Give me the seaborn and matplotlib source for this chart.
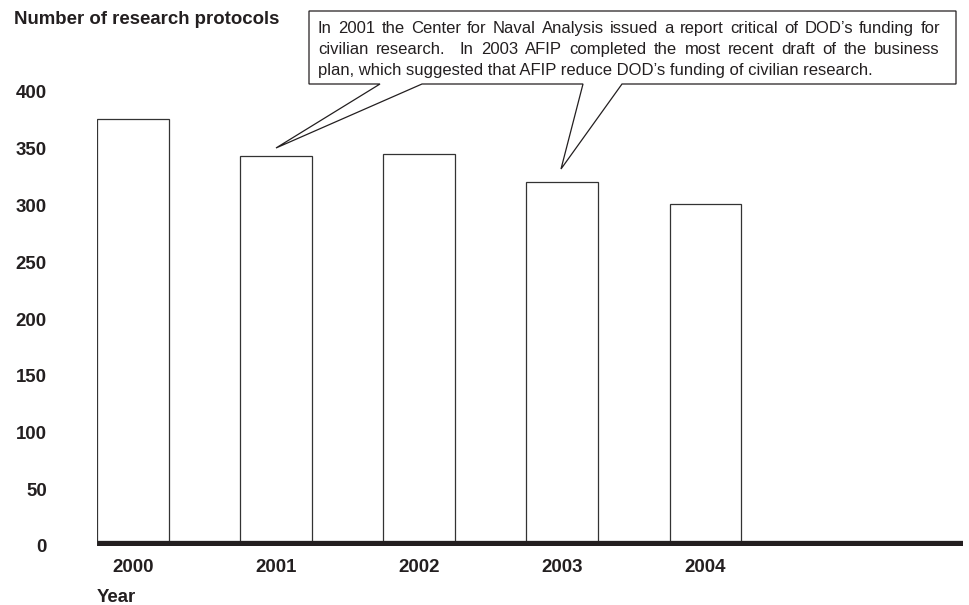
import matplotlib
matplotlib.use("Agg")
import matplotlib.pyplot as plt
import seaborn as sns
import pandas as pd
from matplotlib.patches import Polygon

years = ["2000", "2001", "2002", "2003", "2004"]
protocols = [376, 344, 345, 321, 301]
y_ticks = [0, 50, 100, 150, 200, 250, 300, 350, 400]
y_title = "Number of research protocols"
x_title = "Year"
callout_lines = [
    "In 2001 the Center for Naval Analysis issued a report critical of DOD\u2019s funding for",
    "civilian research.  In 2003 AFIP completed the most recent draft of the business",
    "plan, which suggested that AFIP reduce DOD\u2019s funding of civilian research.",
]

sns.set_theme(style="white")
plt.rcParams["font.family"] = ["Liberation Sans", "DejaVu Sans"]
INK = "#231f20"
BOLD_SIZE = 13.4

W, H = 970, 605
fig = plt.figure(figsize=(W / 100, H / 100), dpi=100)
ax = fig.add_axes([97 / W, 59 / H, (963 - 97) / W, 454 / H])

df = pd.DataFrame({"year": years, "n": protocols})
sns.barplot(data=df, x="year", y="n", ax=ax, color="white", width=0.5,
            edgecolor="#333333", linewidth=0.9, zorder=2)
for p in ax.patches:
    p.set_facecolor("white")

ax.set_xlim(-0.25, 5.80)
ax.set_ylim(0, 400)
ax.set_yticks(y_ticks)
ax.set_yticklabels([str(v) for v in y_ticks])
for s in ax.spines.values():
    s.set_visible(False)
ax.axhline(2.3, color=INK, lw=3.8, zorder=3, solid_capstyle="butt")
ax.tick_params(axis="both", length=0, labelsize=BOLD_SIZE, colors=INK)
ax.tick_params(axis="y", pad=36)
ax.tick_params(axis="x", pad=9)
for lab in ax.get_xticklabels() + ax.get_yticklabels():
    lab.set_fontweight("bold")
ax.set_ylabel("")
ax.set_xlabel(x_title, loc="left", fontsize=BOLD_SIZE, fontweight="bold", color=INK, labelpad=10)
ax.grid(False)

fig.text(14 / W, 1 - 24 / H, y_title, fontsize=BOLD_SIZE, fontweight="bold", color=INK,
         ha="left", va="baseline")

def fp(x, y):
    return (x / W, 1 - y / H)

pts = [(309, 11), (956, 11), (956, 84), (622, 84), (561, 169), (583, 84),
       (422, 84), (276, 148), (380, 84), (309, 84)]
poly = Polygon([fp(*p) for p in pts], closed=True, transform=fig.transFigure,
               facecolor="white", edgecolor=INK, lw=0.9, zorder=5)
fig.add_artist(poly)

# justified callout text (first two lines justified, last line ragged)
renderer = fig.canvas.get_renderer()
x0, x1 = 318, 940
baselines = [33, 54, 75]
for i, (line, yb) in enumerate(zip(callout_lines, baselines)):
    if i == len(callout_lines) - 1:
        fig.text(x0 / W, 1 - yb / H, line, fontsize=12, color=INK, ha="left",
                 va="baseline", zorder=6)
        continue
    words = line.split(" ")
    # treat double spaces as extra gap
    tokens = []
    extra = []
    for w_ in words:
        if w_ == "":
            extra[-1] += 1
        else:
            tokens.append(w_)
            extra.append(0)
    arts = [fig.text(0, 1 - yb / H, t, fontsize=12, color=INK, ha="left",
                     va="baseline", zorder=6) for t in tokens]
    widths = [a.get_window_extent(renderer).width for a in arts]
    nunits = sum(1 + extra[k] for k in range(len(tokens) - 1))
    gap = (x1 - x0 - sum(widths)) / nunits
    x = x0
    for k, a in enumerate(arts):
        a.set_x(x / W)
        x += widths[k] + gap * (1 + extra[k])

fig.savefig("out.png", dpi=100)
